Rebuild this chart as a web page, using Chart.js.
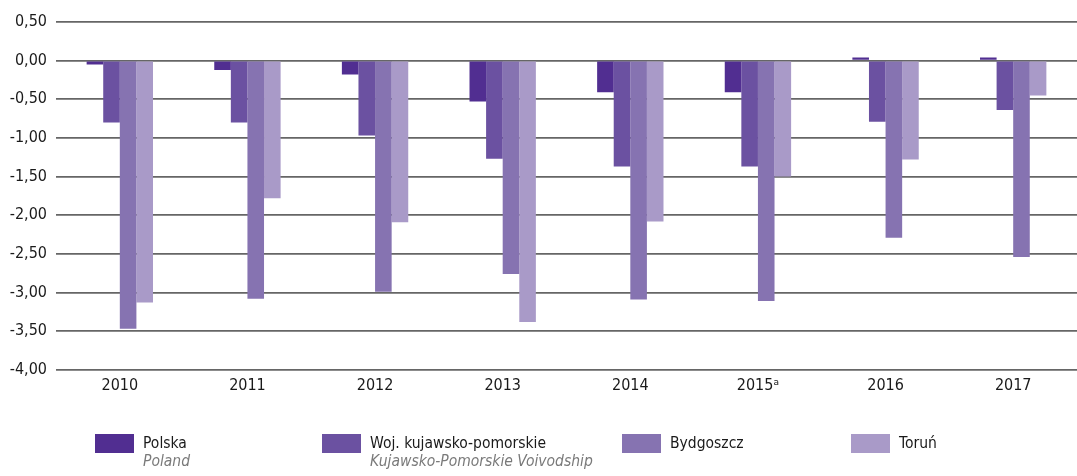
<!DOCTYPE html>
<html>
<head>
<meta charset="utf-8">
<script src="https://cdn.jsdelivr.net/npm/chart.js@4.4.1/dist/chart.umd.min.js"></script>
<style>
  html, body { margin: 0; padding: 0; background: #fff; }
  #wrap { position: relative; width: 1077px; height: 476px; }
  canvas { position: absolute; left: 0; top: 0; }
  .lg { position: absolute; color: #1a1a1a; line-height: 18px; white-space: nowrap; }
  .lg .sw { position: absolute; left: 0; top: 1px; width: 39px; height: 19px; }
  .lg .t { position: absolute; left: 48px; top: 1px; }
  .lg .s { position: absolute; left: 48px; top: 19px; font-style: italic; color: #7a7a7a; }
</style>
</head>
<body>
<div id="wrap">
  <canvas id="c" width="1077" height="476"></canvas>
  <div id="legend"></div>
</div>
<script>
const categories = ['2010', '2011', '2012', '2013', '2014', '2015\u1D43', '2016', '2017'];
const seriesNames = ['Polska', 'Woj. kujawsko-pomorskie', 'Bydgoszcz', 'Toruń'];
const seriesSubNames = ['Poland', 'Kujawsko-Pomorskie Voivodship', '', ''];
const polska = [-0.05, -0.12, -0.18, -0.53, -0.41, -0.41, 0.04, 0.04];
const wojKujawskoPomorskie = [-0.80, -0.80, -0.97, -1.27, -1.37, -1.37, -0.79, -0.64];
const bydgoszcz = [-3.47, -3.08, -2.99, -2.76, -3.09, -3.11, -2.29, -2.54];
const torun = [-3.13, -1.78, -2.09, -3.38, -2.08, -1.50, -1.28, -0.45];
const yTicks = [0.5, 0, -0.5, -1, -1.5, -2, -2.5, -3, -3.5, -4];
const colors = ['#512E91', '#6B51A1', '#8673B1', '#A99AC8'];
const values = [polska, wojKujawskoPomorskie, bydgoszcz, torun];

// pick an installed condensed font
const mctx = document.createElement('canvas').getContext('2d');
function w(font, txt) { mctx.font = font; return mctx.measureText(txt).width; }
const probe = 'mmmmmwwwwwiiiii0123456789';
const candidates = [['Liberation Sans Narrow', 17], ['Arial Narrow', 17], ['DejaVu Sans Condensed', 16]];
let FAM = 'DejaVu Sans Condensed', SIZE = 16;
for (const [c, s] of candidates) {
  const a = w("40px '" + c + "', monospace", probe), b = w('40px monospace', probe);
  const a2 = w("40px '" + c + "', serif", probe), b2 = w('40px serif', probe);
  if (a !== b && a2 !== b2) { FAM = c; SIZE = s; break; }
}
const FONT = "'" + FAM + "', sans-serif";

new Chart(document.getElementById('c'), {
  type: 'bar',
  data: {
    labels: categories,
    datasets: values.map((v, i) => ({
      label: seriesNames[i],
      data: v,
      backgroundColor: colors[i],
      borderWidth: 0,
      inflateAmount: 0,
      categoryPercentage: 0.52,
      barPercentage: 1.0
    }))
  },
  options: {
    responsive: false,
    animation: false,
    layout: { padding: { top: 22, right: 0, bottom: 75, left: 0 } },
    plugins: { legend: { display: false }, tooltip: { enabled: false } },
    scales: {
      x: {
        grid: { display: false, drawTicks: false },
        border: { display: false },
        ticks: { color: '#1a1a1a', font: { family: FONT, size: SIZE }, padding: 6, maxRotation: 0 }
      },
      y: {
        min: -4, max: 0.5,
        afterBuildTicks: (axis) => { axis.ticks = yTicks.map(v => ({ value: v })); },
        afterFit: (axis) => { axis.width = 56; },
        grid: { color: '#666666', lineWidth: 1.7, drawTicks: false, z: -1 },
        border: { display: false },
        ticks: {
          color: '#1a1a1a', font: { family: FONT, size: SIZE }, padding: 9,
          callback: (v) => Number(v).toFixed(2).replace('.', ',')
        }
      }
    }
  }
});

const legendPos = [95, 322, 622, 851];
const lg = document.getElementById('legend');
seriesNames.forEach((n, i) => {
  const d = document.createElement('div');
  d.className = 'lg';
  d.style.fontFamily = FONT;
  d.style.fontSize = (SIZE - 0.5) + 'px';
  d.style.left = legendPos[i] + 'px';
  d.style.top = '433px';
  d.innerHTML = '<div class="sw" style="background:' + colors[i] + '"></div>' +
    '<div class="t">' + n + '</div>' +
    (seriesSubNames[i] ? '<div class="s">' + seriesSubNames[i] + '</div>' : '');
  lg.appendChild(d);
});
</script>
</body>
</html>
